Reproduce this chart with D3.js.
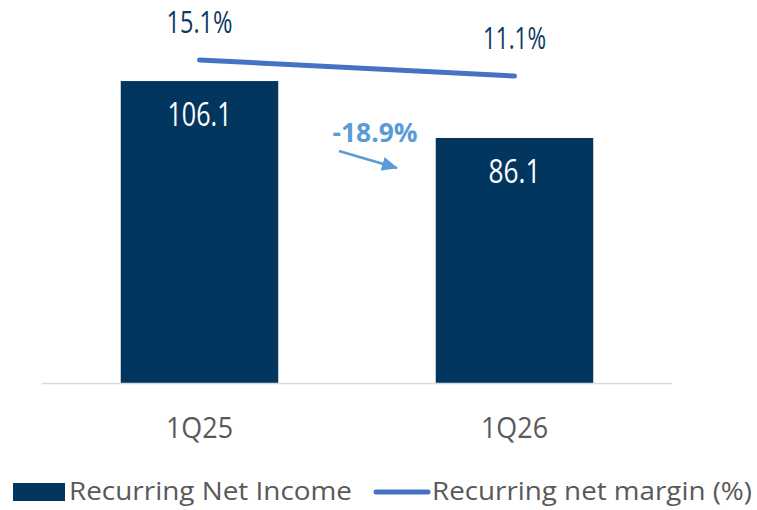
<!DOCTYPE html>
<html>
<head>
<meta charset="utf-8">
<script src="https://cdn.jsdelivr.net/npm/d3@7"></script>
<style>
  body { margin: 0; background: #fff; }
  text { font-family: "Open Sans", "Liberation Sans", sans-serif; }
</style>
</head>
<body>
<svg></svg>
<script>
var quarters = ['1Q25', '1Q26'];
var netIncome = [106.1, 86.1];
var netMargin = [15.1, 11.1];
var changeLabel = '-18.9%';
var legendLabels = ['Recurring Net Income', 'Recurring net margin (%)'];

let svg = d3.select('svg').attr('width', 757).attr('height', 510);

let x = d3.scaleBand().domain(quarters).range([42, 672]).paddingInner(0.5).paddingOuter(0.25);
let y = d3.scaleLinear().domain([0, 120]).range([383, 41.5]);
let y2 = d3.scaleLinear().domain([0, 30]).range([120.4, 0.4]);

// bars:

svg
	.selectAll('.bar')
	.data(quarters)
	.enter()
	.append('rect')
	.attr('class', 'bar')
	.attr('x', (d) => x(d))
	.attr('y', (d, i) => y(netIncome[i]))
	.attr('width', x.bandwidth())
	.attr('height', (d, i) => y(0) - y(netIncome[i]))
	.attr('fill', '#02365f');

svg
	.selectAll('.barLabel')
	.data(quarters)
	.enter()
	.append('text')
	.attr('class', 'barLabel')
	.attr('x', (d) => x(d) + x.bandwidth() / 2)
	.attr('y', (d, i) => y(netIncome[i]) + 45)
	.attr('text-anchor', 'middle')
	.attr('fill', '#fff')
	.style('font-size', '32px')
	.attr('textLength', (d, i) => [64, 52][i])
	.attr('lengthAdjust', 'spacingAndGlyphs')
	.text((d, i) => netIncome[i].toFixed(1));

// axis:

svg
	.append('g')
	.attr('transform', 'translate(0,' + y(0) + ')')
	.call(d3.axisBottom(x).tickSize(0).tickPadding(34))
	.call((g) => g.select('.domain').attr('d', 'M42,0.5H672').attr('stroke', '#d9d9d9').attr('stroke-width', 1.5))
	.call((g) =>
		g
			.selectAll('text')
			.attr('fill', '#595959')
			.attr('font-family', null)
			.style('font-size', '30px')
			.attr('textLength', 67)
			.attr('lengthAdjust', 'spacingAndGlyphs')
	);

// margin line:

let line = d3.line().x((d, i) => x(quarters[i]) + x.bandwidth() / 2).y((d) => y2(d));

svg
	.append('path')
	.attr('d', line(netMargin))
	.attr('fill', 'none')
	.attr('stroke', '#4472c4')
	.attr('stroke-width', 5)
	.attr('stroke-linecap', 'round');

svg
	.selectAll('.marginLabel')
	.data(netMargin)
	.enter()
	.append('text')
	.attr('class', 'marginLabel')
	.attr('x', (d, i) => x(quarters[i]) + x.bandwidth() / 2)
	.attr('y', (d) => y2(d) - 27)
	.attr('text-anchor', 'middle')
	.attr('fill', '#0d3a64')
	.style('font-size', '31px')
	.attr('textLength', (d, i) => [66, 63][i])
	.attr('lengthAdjust', 'spacingAndGlyphs')
	.text((d) => d.toFixed(1) + '%');

// change annotation:

svg
	.append('text')
	.attr('x', 375)
	.attr('y', 142)
	.attr('text-anchor', 'middle')
	.attr('fill', '#5b9bd5')
	.style('font-size', '26px')
	.style('font-weight', 'bold')
	.attr('textLength', 85)
	.attr('lengthAdjust', 'spacingAndGlyphs')
	.text(changeLabel);

svg
	.append('marker')
	.attr('id', 'arrowHead')
	.attr('orient', 'auto')
	.attr('markerUnits', 'userSpaceOnUse')
	.attr('markerWidth', 16)
	.attr('markerHeight', 14)
	.attr('refX', 15)
	.attr('refY', 7)
	.append('path')
	.attr('d', 'M0,0 L16,7 L0,14 Z')
	.attr('fill', '#5b9bd5');

svg
	.append('line')
	.attr('x1', 339)
	.attr('y1', 151)
	.attr('x2', 397)
	.attr('y2', 168)
	.attr('stroke', '#5b9bd5')
	.attr('stroke-width', 2.5)
	.attr('marker-end', 'url(#arrowHead)');

// legend:

svg.append('rect').attr('x', 13).attr('y', 483).attr('width', 52).attr('height', 18).attr('fill', '#02365f');

svg
	.append('line')
	.attr('x1', 376)
	.attr('y1', 492)
	.attr('x2', 428)
	.attr('y2', 492)
	.attr('stroke', '#4472c4')
	.attr('stroke-width', 5)
	.attr('stroke-linecap', 'round');

svg
	.selectAll('.legendText')
	.data(legendLabels)
	.enter()
	.append('text')
	.attr('class', 'legendText')
	.attr('x', (d, i) => [69, 432][i])
	.attr('y', 500)
	.attr('fill', '#595959')
	.style('font-size', '25px')
	.attr('textLength', (d, i) => [283, 320][i])
	.attr('lengthAdjust', 'spacingAndGlyphs')
	.text((d) => d);
</script>
</body>
</html>
